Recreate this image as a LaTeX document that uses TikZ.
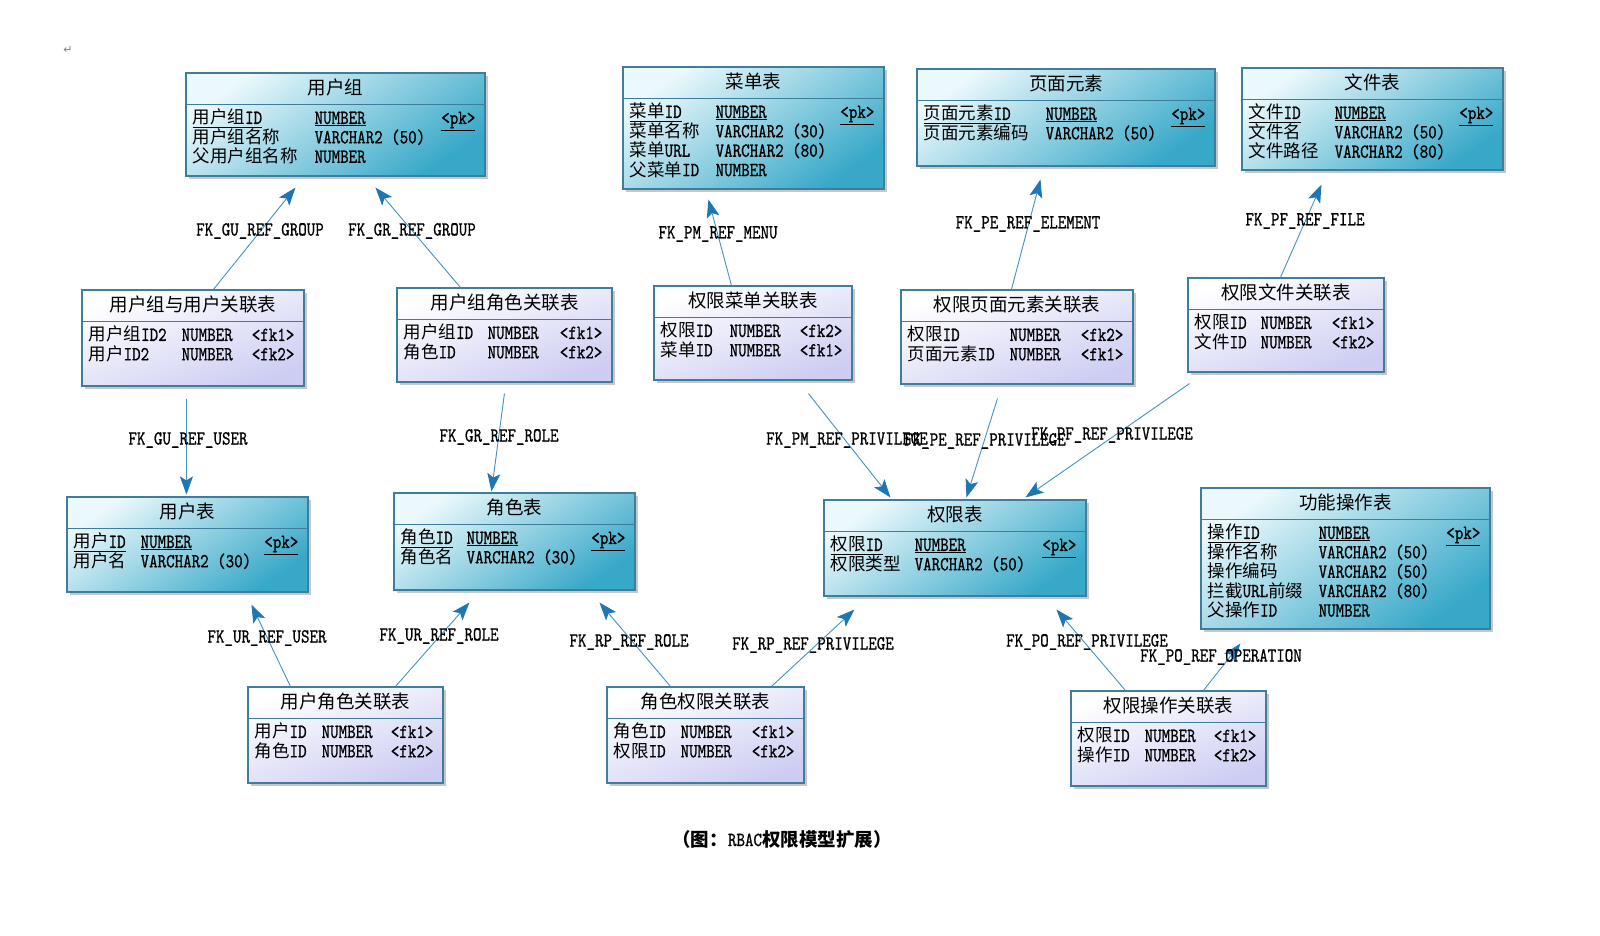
\documentclass[tikz,border=0pt]{standalone}
\usepackage{fontspec}
\usetikzlibrary{arrows.meta,calc,fit,shadows}
\newfontfamily\cjkf{Noto Sans CJK SC}
\newfontfamily\latf[Extension=.otf, FakeStretch=0.81, FakeBold=0.8]{lmmono10-regular}
\newfontfamily\symf{DejaVu Sans}
\newcommand\zhs[1]{{\cjkf\fontsize{17.5pt}{19pt}\selectfont #1}}
\newcommand\zht[1]{{\cjkf\fontsize{18.5pt}{20pt}\selectfont #1}}
\newcommand\ltn[1]{{\latf\fontsize{20pt}{19pt}\selectfont #1}}
\definecolor{bord}{RGB}{62,125,155}
\definecolor{mainA}{RGB}{236,249,252}
\definecolor{mainB}{RGB}{55,168,200}
\definecolor{assA}{RGB}{255,255,255}
\definecolor{assB}{RGB}{205,205,243}
\definecolor{lnk}{RGB}{70,145,195}
\definecolor{tipc}{RGB}{30,118,178}
\tikzset{
  maintbl/.style={draw=bord, line width=1.1pt, inner sep=0pt,
    top color=mainA, bottom color=mainB, shading angle=35,
    drop shadow={shadow xshift=3pt, shadow yshift=-3pt, fill=black!22, opacity=1}},
  asstbl/.style={draw=bord, line width=1.1pt, inner sep=0pt,
    top color=assA, bottom color=assB, shading angle=20,
    drop shadow={shadow xshift=3pt, shadow yshift=-3pt, fill=black!22, opacity=1}},
  sepline/.style={draw=bord, line width=1.1pt},
  ttl/.style={inner sep=0pt, anchor=base},
  cell/.style={inner sep=0pt, anchor=base west},
  tagc/.style={inner sep=0pt, anchor=base east},
  fkline/.style={draw=lnk, line width=0.9pt,
    -{Stealth[length=18pt,width=13pt,inset=4pt,fill=tipc,color=tipc]}},
  lbl/.style={inner sep=0pt, anchor=center}
}
% table frame: name, style, x1, y1, x2, y2, title
\newcommand\tabl[7]{%
  \node[#2, fit={(#3,#4) (#5,#6)}] (#1) {};
  \draw[sepline] ($(#1.north west)+(0,32)$) -- ($(#1.north east)+(0,32)$);
  \node[ttl] (#1-t) at ($(#1.north)+(0,22)$) {\zht{#7}};
}
% row: node, index, name, type offset, type, tag
\newcommand\trow[6]{%
  \node[cell] (#1-n#2) at ($(#1.north west)+(7,{51.5+19.4*#2})$) {#3};
  \node[cell] (#1-y#2) at ($(#1.north west)+(#4,{51.5+19.4*#2})$) {#5};
  \node[tagc] (#1-k#2) at ($(#1.north east)+(-10,{51.5+19.4*#2})$) {#6};
}
\begin{document}
\begin{tikzpicture}[x=1pt,y=-1pt]
\fill[white] (0,0) rectangle (1600,935);
\useasboundingbox (0,0) rectangle (1600,935);

\node (ret) at (68,50) {\symf\fontsize{11pt}{11pt}\selectfont\color{gray}↵};

% ---------- main tables ----------
\tabl{ug}{maintbl}{186}{73}{485}{176}{用户组}
\trow{ug}{0}{\underline{\zhs{用户组}\ltn{ID}}}{129}{\underline{\ltn{NUMBER}}}{\underline{\ltn{<pk>}}}
\trow{ug}{1}{\zhs{用户组名称}}{129}{\ltn{VARCHAR2 (50)}}{}
\trow{ug}{2}{\zhs{父用户组名称}}{129}{\ltn{NUMBER}}{}

\tabl{menu}{maintbl}{623}{67}{884}{189}{菜单表}
\trow{menu}{0}{\underline{\zhs{菜单}\ltn{ID}}}{93}{\underline{\ltn{NUMBER}}}{\underline{\ltn{<pk>}}}
\trow{menu}{1}{\zhs{菜单名称}}{93}{\ltn{VARCHAR2 (30)}}{}
\trow{menu}{2}{\zhs{菜单}\ltn{URL}}{93}{\ltn{VARCHAR2 (80)}}{}
\trow{menu}{3}{\zhs{父菜单}\ltn{ID}}{93}{\ltn{NUMBER}}{}

\tabl{page}{maintbl}{917}{69}{1215}{166}{页面元素}
\trow{page}{0}{\underline{\zhs{页面元素}\ltn{ID}}}{129}{\underline{\ltn{NUMBER}}}{\underline{\ltn{<pk>}}}
\trow{page}{1}{\zhs{页面元素编码}}{129}{\ltn{VARCHAR2 (50)}}{}

\tabl{file}{maintbl}{1242}{68}{1503}{170}{文件表}
\trow{file}{0}{\underline{\zhs{文件}\ltn{ID}}}{93}{\underline{\ltn{NUMBER}}}{\underline{\ltn{<pk>}}}
\trow{file}{1}{\zhs{文件名}}{93}{\ltn{VARCHAR2 (50)}}{}
\trow{file}{2}{\zhs{文件路径}}{93}{\ltn{VARCHAR2 (80)}}{}

\tabl{user}{maintbl}{67}{497}{308}{592}{用户表}
\trow{user}{0}{\underline{\zhs{用户}\ltn{ID}}}{74}{\underline{\ltn{NUMBER}}}{\underline{\ltn{<pk>}}}
\trow{user}{1}{\zhs{用户名}}{74}{\ltn{VARCHAR2 (30)}}{}

\tabl{role}{maintbl}{394}{493}{635}{590}{角色表}
\trow{role}{0}{\underline{\zhs{角色}\ltn{ID}}}{73}{\underline{\ltn{NUMBER}}}{\underline{\ltn{<pk>}}}
\trow{role}{1}{\zhs{角色名}}{73}{\ltn{VARCHAR2 (30)}}{}

\tabl{priv}{maintbl}{824}{500}{1086}{596}{权限表}
\trow{priv}{0}{\underline{\zhs{权限}\ltn{ID}}}{91}{\underline{\ltn{NUMBER}}}{\underline{\ltn{<pk>}}}
\trow{priv}{1}{\zhs{权限类型}}{91}{\ltn{VARCHAR2 (50)}}{}

\tabl{op}{maintbl}{1201}{488}{1490}{629}{功能操作表}
\trow{op}{0}{\underline{\zhs{操作}\ltn{ID}}}{118}{\underline{\ltn{NUMBER}}}{\underline{\ltn{<pk>}}}
\trow{op}{1}{\zhs{操作名称}}{118}{\ltn{VARCHAR2 (50)}}{}
\trow{op}{2}{\zhs{操作编码}}{118}{\ltn{VARCHAR2 (50)}}{}
\trow{op}{3}{\zhs{拦截}\ltn{URL}\zhs{前缀}}{118}{\ltn{VARCHAR2 (80)}}{}
\trow{op}{4}{\zhs{父操作}\ltn{ID}}{118}{\ltn{NUMBER}}{}

% ---------- association tables ----------
\tabl{ugu}{asstbl}{82}{290}{304}{386}{用户组与用户关联表}
\trow{ugu}{0}{\zhs{用户组}\ltn{ID2}}{100}{\ltn{NUMBER}}{\ltn{<fk1>}}
\trow{ugu}{1}{\zhs{用户}\ltn{ID2}}{100}{\ltn{NUMBER}}{\ltn{<fk2>}}

\tabl{ugr}{asstbl}{397}{288}{612}{382}{用户组角色关联表}
\trow{ugr}{0}{\zhs{用户组}\ltn{ID}}{91}{\ltn{NUMBER}}{\ltn{<fk1>}}
\trow{ugr}{1}{\zhs{角色}\ltn{ID}}{91}{\ltn{NUMBER}}{\ltn{<fk2>}}

\tabl{pm}{asstbl}{654}{286}{852}{380}{权限菜单关联表}
\trow{pm}{0}{\zhs{权限}\ltn{ID}}{76}{\ltn{NUMBER}}{\ltn{<fk2>}}
\trow{pm}{1}{\zhs{菜单}\ltn{ID}}{76}{\ltn{NUMBER}}{\ltn{<fk1>}}

\tabl{pe}{asstbl}{901}{290}{1133}{384}{权限页面元素关联表}
\trow{pe}{0}{\zhs{权限}\ltn{ID}}{109}{\ltn{NUMBER}}{\ltn{<fk2>}}
\trow{pe}{1}{\zhs{页面元素}\ltn{ID}}{109}{\ltn{NUMBER}}{\ltn{<fk1>}}

\tabl{pf}{asstbl}{1188}{278}{1384}{372}{权限文件关联表}
\trow{pf}{0}{\zhs{权限}\ltn{ID}}{73}{\ltn{NUMBER}}{\ltn{<fk1>}}
\trow{pf}{1}{\zhs{文件}\ltn{ID}}{73}{\ltn{NUMBER}}{\ltn{<fk2>}}

\tabl{ur}{asstbl}{248}{687}{443}{783}{用户角色关联表}
\trow{ur}{0}{\zhs{用户}\ltn{ID}}{74}{\ltn{NUMBER}}{\ltn{<fk1>}}
\trow{ur}{1}{\zhs{角色}\ltn{ID}}{74}{\ltn{NUMBER}}{\ltn{<fk2>}}

\tabl{rp}{asstbl}{607}{687}{804}{783}{角色权限关联表}
\trow{rp}{0}{\zhs{角色}\ltn{ID}}{74}{\ltn{NUMBER}}{\ltn{<fk1>}}
\trow{rp}{1}{\zhs{权限}\ltn{ID}}{74}{\ltn{NUMBER}}{\ltn{<fk2>}}

\tabl{po}{asstbl}{1071}{691}{1266}{786}{权限操作关联表}
\trow{po}{0}{\zhs{权限}\ltn{ID}}{74}{\ltn{NUMBER}}{\ltn{<fk1>}}
\trow{po}{1}{\zhs{操作}\ltn{ID}}{74}{\ltn{NUMBER}}{\ltn{<fk2>}}

% ---------- connectors ----------
\draw[fkline] ($(ugu.north west)+(132,0)$) -- ($(ug.south west)+(110,11)$);
\draw[fkline] ($(ugr.north west)+(64,0)$) -- ($(ug.south west)+(190,11)$);
\draw[fkline] ($(pm.north west)+(78,0)$) -- ($(menu.south west)+(86,10)$);
\draw[fkline] ($(pe.north west)+(111,0)$) -- ($(page.south west)+(124,13)$);
\draw[fkline] ($(pf.north west)+(93,0)$) -- ($(file.south west)+(80,14)$);
\draw[fkline] ($(ugu.south west)+(105,12)$) -- ($(user.north west)+(120,-2)$);
\draw[fkline] ($(ugr.south west)+(108,11)$) -- ($(role.north west)+(98,-1)$);
\draw[fkline] ($(pm.south west)+(155,13)$) -- ($(priv.north west)+(67,-2)$);
\draw[fkline] ($(pe.south west)+(97,14)$) -- ($(priv.north west)+(143,-2)$);
\draw[fkline] ($(pf.south west)+(2,11)$) -- ($(priv.north west)+(202,-2)$);
\draw[fkline] ($(ur.north west)+(43,0)$) -- ($(user.south west)+(185,12)$);
\draw[fkline] ($(ur.north west)+(148,0)$) -- ($(role.south west)+(76,12)$);
\draw[fkline] ($(rp.north west)+(64,0)$) -- ($(role.south west)+(206,12)$);
\draw[fkline] ($(rp.north west)+(165,0)$) -- ($(priv.south west)+(31,13)$);
\draw[fkline] ($(po.north west)+(55,0)$) -- ($(priv.south west)+(233,13)$);
\draw[fkline] ($(po.north west)+(133,0)$) -- ($(op.south west)+(40,14)$);

% ---------- labels ----------
\node[lbl] (l1) at (260,231) {\ltn{FK\_GU\_REF\_GROUP}};
\node[lbl] (l2) at (412,231) {\ltn{FK\_GR\_REF\_GROUP}};
\node[lbl] (l3) at (718,234) {\ltn{FK\_PM\_REF\_MENU}};
\node[lbl] (l4) at (1028,224) {\ltn{FK\_PE\_REF\_ELEMENT}};
\node[lbl] (l5) at (1305,221) {\ltn{FK\_PF\_REF\_FILE}};
\node[lbl] (l6) at (188,440) {\ltn{FK\_GU\_REF\_USER}};
\node[lbl] (l7) at (499,437) {\ltn{FK\_GR\_REF\_ROLE}};
\node[lbl] (l8) at (847,440) {\ltn{FK\_PM\_REF\_PRIVILEGE}};
\node[lbl] (l9) at (985,441) {\ltn{FK\_PE\_REF\_PRIVILEGE}};
\node[lbl] (l10) at (1112,435) {\ltn{FK\_PF\_REF\_PRIVILEGE}};
\node[lbl] (l11) at (267,638) {\ltn{FK\_UR\_REF\_USER}};
\node[lbl] (l12) at (439,636) {\ltn{FK\_UR\_REF\_ROLE}};
\node[lbl] (l13) at (629,642) {\ltn{FK\_RP\_REF\_ROLE}};
\node[lbl] (l14) at (813,645) {\ltn{FK\_RP\_REF\_PRIVILEGE}};
\node[lbl] (l15) at (1087,642) {\ltn{FK\_PO\_REF\_PRIVILEGE}};
\node[lbl] (l16) at (1221,657) {\ltn{FK\_PO\_REF\_OPERATION}};

% ---------- caption ----------
\node[lbl] (cap) at (782,839) {\zhs{\fontsize{18.5pt}{20pt}\selectfont\bfseries （图：}\ltn{RBAC}\zhs{\fontsize{18.5pt}{20pt}\selectfont\bfseries 权限模型扩展）}};
\end{tikzpicture}
\end{document}
